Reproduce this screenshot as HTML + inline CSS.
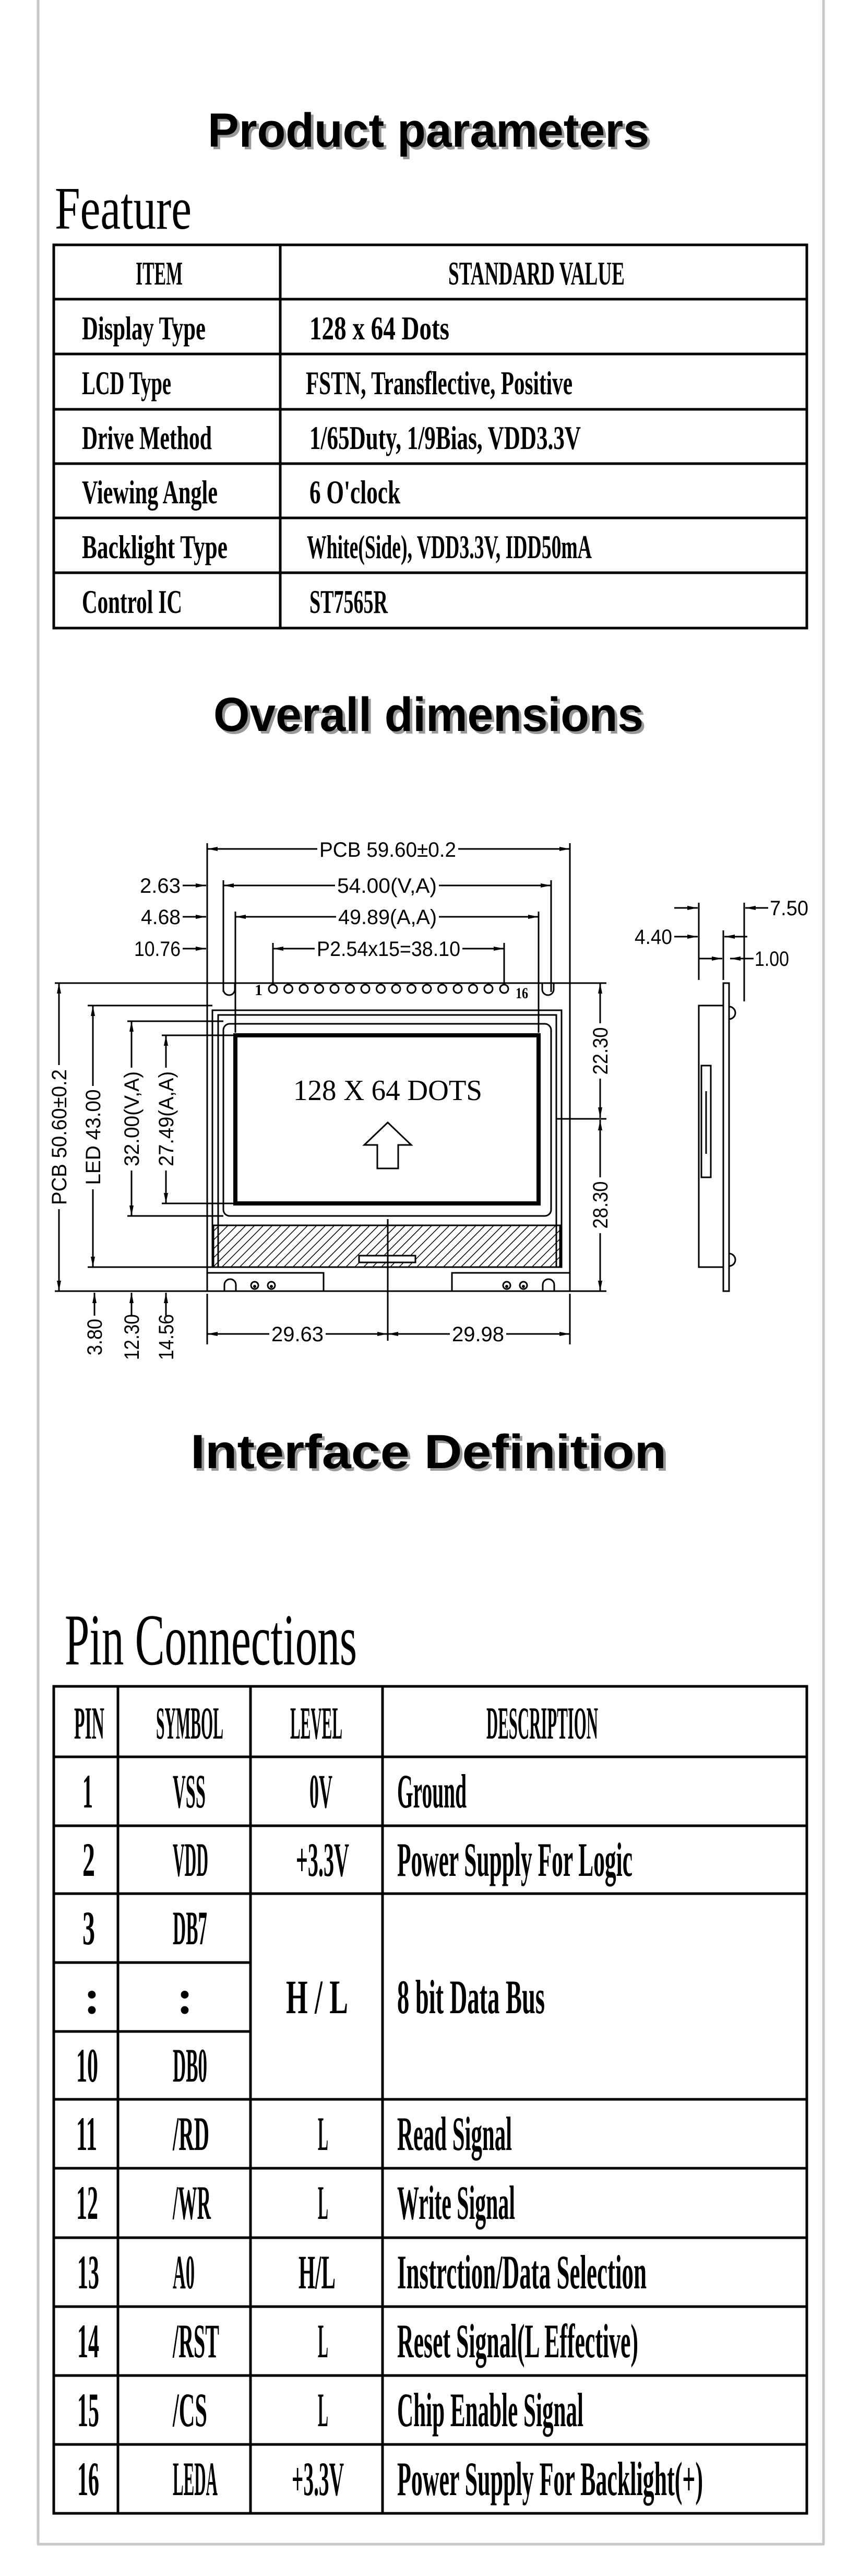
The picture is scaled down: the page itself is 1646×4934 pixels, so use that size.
<!DOCTYPE html>
<html><head><meta charset="utf-8"><style>
html,body{margin:0;padding:0;background:#fff}
svg{display:block}
.s{font-family:"Liberation Serif",serif;font-weight:bold;fill:#000}
.n{font-family:"Liberation Sans",sans-serif;fill:#000}
.h{font-family:"Liberation Sans",sans-serif;font-weight:bold}
</style></head><body>
<svg width="1646" height="4934" viewBox="0 0 1646 4934" xmlns="http://www.w3.org/2000/svg">
<defs>
<marker id="a" viewBox="0 0 20 10" refX="20" refY="5" markerWidth="20" markerHeight="10" markerUnits="userSpaceOnUse" orient="auto-start-reverse"><path d="M0,1 L20,5 L0,9 Z" fill="#000"/></marker>
<pattern id="hp" width="12" height="12" patternUnits="userSpaceOnUse" patternTransform="rotate(45)"><line x1="0" y1="0" x2="0" y2="12" stroke="#000" stroke-width="3"/></pattern>
</defs>
<g stroke="#c8c8c8" stroke-width="5" fill="none">
<line x1="73" y1="0" x2="73" y2="4873"/><line x1="1578" y1="0" x2="1578" y2="4873"/><line x1="71" y1="4873" x2="1580" y2="4873"/>
</g>
<g class="h" font-size="92">
<text x="403" y="286" textLength="846" lengthAdjust="spacingAndGlyphs" fill="#999">Product parameters</text>
<text x="398" y="281" textLength="846" lengthAdjust="spacingAndGlyphs" fill="#000">Product parameters</text>
<text x="414" y="1405" textLength="824" lengthAdjust="spacingAndGlyphs" fill="#999">Overall dimensions</text>
<text x="409" y="1400" textLength="824" lengthAdjust="spacingAndGlyphs" fill="#000">Overall dimensions</text>
<text x="370" y="2817" textLength="912" lengthAdjust="spacingAndGlyphs" fill="#999">Interface Definition</text>
<text x="365" y="2812" textLength="912" lengthAdjust="spacingAndGlyphs" fill="#000">Interface Definition</text>
</g>
<text x="105" y="438" font-family="Liberation Serif,serif" font-size="115" textLength="262" lengthAdjust="spacingAndGlyphs">Feature</text>
<text x="124" y="3188" font-family="Liberation Serif,serif" font-size="140" textLength="560" lengthAdjust="spacingAndGlyphs">Pin Connections</text>

<g stroke="#000" stroke-width="5" fill="none">
<rect x="103" y="469" width="1443" height="734"/>
<line x1="537" y1="469" x2="537" y2="1203"/>
<line x1="103" y1="573" x2="1546" y2="573"/><line x1="103" y1="678" x2="1546" y2="678"/><line x1="103" y1="784" x2="1546" y2="784"/><line x1="103" y1="888" x2="1546" y2="888"/><line x1="103" y1="992" x2="1546" y2="992"/><line x1="103" y1="1097" x2="1546" y2="1097"/>
</g>
<g class="s" font-size="64">
<text x="260" y="545" textLength="90" lengthAdjust="spacingAndGlyphs">ITEM</text>
<text x="859" y="545" textLength="338" lengthAdjust="spacingAndGlyphs">STANDARD VALUE</text>
<text x="157" y="650" textLength="237" lengthAdjust="spacingAndGlyphs">Display Type</text>
<text x="593" y="650" textLength="268" lengthAdjust="spacingAndGlyphs">128 x 64 Dots</text>
<text x="157" y="755" textLength="171" lengthAdjust="spacingAndGlyphs">LCD Type</text>
<text x="586" y="755" textLength="511" lengthAdjust="spacingAndGlyphs">FSTN, Transflective, Positive</text>
<text x="157" y="860" textLength="249" lengthAdjust="spacingAndGlyphs">Drive Method</text>
<text x="593" y="860" textLength="520" lengthAdjust="spacingAndGlyphs">1/65Duty, 1/9Bias, VDD3.3V</text>
<text x="157" y="964" textLength="260" lengthAdjust="spacingAndGlyphs">Viewing Angle</text>
<text x="593" y="964" textLength="174" lengthAdjust="spacingAndGlyphs">6 O'clock</text>
<text x="157" y="1069" textLength="279" lengthAdjust="spacingAndGlyphs">Backlight Type</text>
<text x="588" y="1069" textLength="546" lengthAdjust="spacingAndGlyphs">White(Side), VDD3.3V, IDD50mA</text>
<text x="157" y="1174" textLength="192" lengthAdjust="spacingAndGlyphs">Control IC</text>
<text x="593" y="1174" textLength="150" lengthAdjust="spacingAndGlyphs">ST7565R</text>
</g>

<g stroke="#000" stroke-width="3" fill="none">
<rect x="397" y="1883" width="695" height="590"/>
<line x1="397" y1="1615" x2="397" y2="1883"/><line x1="1092" y1="1615" x2="1092" y2="1883"/>
<line x1="428" y1="1686" x2="428" y2="1900"/><line x1="1056" y1="1686" x2="1056" y2="1900"/>
<line x1="451" y1="1746" x2="451" y2="1978"/><line x1="1032" y1="1746" x2="1032" y2="1978"/>
<line x1="523" y1="1806" x2="523" y2="1886"/><line x1="966" y1="1806" x2="966" y2="1886"/>
<line x1="397" y1="1626" x2="608" y2="1626" marker-start="url(#a)"/><line x1="878" y1="1626" x2="1092" y2="1626" marker-end="url(#a)"/>
<line x1="428" y1="1696" x2="642" y2="1696" marker-start="url(#a)"/><line x1="841" y1="1696" x2="1056" y2="1696" marker-end="url(#a)"/>
<line x1="451" y1="1756" x2="644" y2="1756" marker-start="url(#a)"/><line x1="841" y1="1756" x2="1032" y2="1756" marker-end="url(#a)"/>
<line x1="523" y1="1817" x2="603" y2="1817" marker-start="url(#a)"/><line x1="886" y1="1817" x2="966" y2="1817" marker-end="url(#a)"/>
<line x1="350" y1="1696" x2="395" y2="1696" marker-end="url(#a)"/>
<line x1="350" y1="1756" x2="395" y2="1756" marker-end="url(#a)"/>
<line x1="350" y1="1817" x2="395" y2="1817" marker-end="url(#a)"/>
<path d="M428,1883 V1895 A11,11 0 0 0 450,1895 V1883"/>
<path d="M1039,1883 V1895 A11,11 0 0 0 1061,1895 V1883"/>
<rect x="407" y="1935" width="669" height="492"/>
<rect x="418" y="1944" width="648" height="483"/>
<rect x="428" y="1961" width="628" height="368" rx="12"/>
<rect x="451" y="1983" width="581" height="322" stroke-width="8"/>
<line x1="105" y1="1883" x2="397" y2="1883"/>
<line x1="168" y1="1926" x2="407" y2="1926"/>
<line x1="244" y1="1956" x2="428" y2="1956"/>
<line x1="310" y1="1983" x2="451" y2="1983"/>
<line x1="310" y1="2305" x2="451" y2="2305"/>
<line x1="244" y1="2329" x2="428" y2="2329"/>
<line x1="168" y1="2427" x2="407" y2="2427"/>
<line x1="105" y1="2473" x2="397" y2="2473"/>
<line x1="113" y1="1883" x2="113" y2="2040" marker-start="url(#a)"/><line x1="113" y1="2316" x2="113" y2="2473" marker-end="url(#a)"/>
<line x1="178" y1="1926" x2="178" y2="2080" marker-start="url(#a)"/><line x1="178" y1="2278" x2="178" y2="2427" marker-end="url(#a)"/>
<line x1="252" y1="1956" x2="252" y2="2045" marker-start="url(#a)"/><line x1="252" y1="2242" x2="252" y2="2329" marker-end="url(#a)"/>
<line x1="318" y1="1983" x2="318" y2="2045" marker-start="url(#a)"/><line x1="318" y1="2242" x2="318" y2="2305" marker-end="url(#a)"/>
<line x1="181" y1="2520" x2="181" y2="2476" marker-end="url(#a)"/>
<line x1="252" y1="2520" x2="252" y2="2476" marker-end="url(#a)"/>
<line x1="318" y1="2520" x2="318" y2="2476" marker-end="url(#a)"/>
<line x1="1092" y1="1883" x2="1162" y2="1883"/><line x1="1092" y1="2473" x2="1162" y2="2473"/>
<line x1="1066" y1="2143" x2="1162" y2="2143"/>
<line x1="1150" y1="1883" x2="1150" y2="1960" marker-start="url(#a)"/><line x1="1150" y1="2066" x2="1150" y2="2141" marker-end="url(#a)"/>
<line x1="1150" y1="2145" x2="1150" y2="2255" marker-start="url(#a)"/><line x1="1150" y1="2362" x2="1150" y2="2473" marker-end="url(#a)"/>
<line x1="397" y1="2478" x2="397" y2="2575"/><line x1="1092" y1="2478" x2="1092" y2="2575"/>
<line x1="743" y1="2335" x2="743" y2="2568"/>
<line x1="397" y1="2555" x2="516" y2="2555" marker-start="url(#a)"/><line x1="624" y1="2555" x2="743" y2="2555" marker-end="url(#a)"/>
<line x1="743" y1="2555" x2="862" y2="2555" marker-start="url(#a)"/><line x1="970" y1="2555" x2="1092" y2="2555" marker-end="url(#a)"/>
<polyline points="397,2438 620,2438 620,2473"/>
<polyline points="1092,2438 866,2438 866,2473"/>
<path d="M430,2473 V2461 A11,11 0 0 1 452,2461 V2473"/>
<path d="M1040,2473 V2461 A11,11 0 0 1 1062,2461 V2473"/>
<rect x="1339" y="1926" width="47" height="501"/>
<rect x="1386" y="1883" width="11" height="590"/>
<rect x="1344" y="2041" width="18" height="214"/>
<line x1="1353" y1="2090" x2="1353" y2="2210"/>
<path d="M1397,1928 A12,12 0 0 1 1397,1952"/>
<path d="M1397,2401 A12,12 0 0 1 1397,2425"/>
<line x1="1339" y1="1729" x2="1339" y2="1877"/>
<line x1="1386" y1="1782" x2="1386" y2="1877"/>
<line x1="1426" y1="1729" x2="1426" y2="1918"/>
<line x1="1292" y1="1739" x2="1337" y2="1739" marker-end="url(#a)"/>
<line x1="1472" y1="1739" x2="1428" y2="1739" marker-end="url(#a)"/>
<line x1="1292" y1="1794" x2="1337" y2="1794" marker-end="url(#a)"/>
<line x1="1432" y1="1794" x2="1388" y2="1794" marker-end="url(#a)"/>
<line x1="1339" y1="1836" x2="1384" y2="1836" marker-end="url(#a)"/>
<line x1="1444" y1="1836" x2="1399" y2="1836" marker-end="url(#a)"/>
</g>
<rect x="409" y="2347" width="664" height="80" fill="url(#hp)" stroke="#000" stroke-width="3"/>
<rect x="688" y="2405" width="108" height="13" fill="#fff" stroke="#000" stroke-width="3"/>
<line x1="743" y1="2347" x2="743" y2="2438" stroke="#000" stroke-width="3"/>
<g stroke="#000" stroke-width="3" fill="none">
<circle cx="523" cy="1894" r="8"/><circle cx="552.5" cy="1894" r="8"/><circle cx="582" cy="1894" r="8"/><circle cx="611.5" cy="1894" r="8"/><circle cx="641" cy="1894" r="8"/><circle cx="670.5" cy="1894" r="8"/><circle cx="700" cy="1894" r="8"/><circle cx="729.5" cy="1894" r="8"/><circle cx="759" cy="1894" r="8"/><circle cx="788.5" cy="1894" r="8"/><circle cx="818" cy="1894" r="8"/><circle cx="847.5" cy="1894" r="8"/><circle cx="877" cy="1894" r="8"/><circle cx="906.5" cy="1894" r="8"/><circle cx="936" cy="1894" r="8"/><circle cx="966" cy="1894" r="8"/>
<circle cx="488" cy="2462" r="7"/><circle cx="520" cy="2462" r="7"/><circle cx="971" cy="2462" r="7"/><circle cx="1003" cy="2462" r="7"/>
<path d="M743,2150 L698,2193 H723 V2238 H763 V2193 H788 Z"/>
</g>
<g fill="#000"><circle cx="488" cy="2464" r="3"/><circle cx="520" cy="2464" r="3"/><circle cx="971" cy="2464" r="3"/><circle cx="1003" cy="2464" r="3"/></g>
<g class="n" font-size="40">
<text x="612" y="1641" textLength="262" lengthAdjust="spacingAndGlyphs">PCB 59.60±0.2</text>
<text x="646" y="1710" textLength="191" lengthAdjust="spacingAndGlyphs">54.00(V,A)</text>
<text x="648" y="1770" textLength="189" lengthAdjust="spacingAndGlyphs">49.89(A,A)</text>
<text x="607" y="1831" textLength="275" lengthAdjust="spacingAndGlyphs">P2.54x15=38.10</text>
<text x="268" y="1710" textLength="78" lengthAdjust="spacingAndGlyphs">2.63</text>
<text x="270" y="1770" textLength="76" lengthAdjust="spacingAndGlyphs">4.68</text>
<text x="257" y="1831" textLength="89" lengthAdjust="spacingAndGlyphs">10.76</text>
<text x="520" y="2569" textLength="100" lengthAdjust="spacingAndGlyphs">29.63</text>
<text x="866" y="2569" textLength="100" lengthAdjust="spacingAndGlyphs">29.98</text>
<text x="1475" y="1753" textLength="74" lengthAdjust="spacingAndGlyphs">7.50</text>
<text x="1216" y="1808" textLength="72" lengthAdjust="spacingAndGlyphs">4.40</text>
<text x="1446" y="1850" textLength="66" lengthAdjust="spacingAndGlyphs">1.00</text>
<text transform="translate(127,2178) rotate(-90)" text-anchor="middle" textLength="260" lengthAdjust="spacingAndGlyphs">PCB 50.60±0.2</text>
<text transform="translate(192,2178) rotate(-90)" text-anchor="middle" textLength="183" lengthAdjust="spacingAndGlyphs">LED 43.00</text>
<text transform="translate(266,2143) rotate(-90)" text-anchor="middle" textLength="182" lengthAdjust="spacingAndGlyphs">32.00(V,A)</text>
<text transform="translate(332,2143) rotate(-90)" text-anchor="middle" textLength="182" lengthAdjust="spacingAndGlyphs">27.49(A,A)</text>
<text transform="translate(1164,2013) rotate(-90)" text-anchor="middle" textLength="91" lengthAdjust="spacingAndGlyphs">22.30</text>
<text transform="translate(1164,2308) rotate(-90)" text-anchor="middle" textLength="91" lengthAdjust="spacingAndGlyphs">28.30</text>
<text transform="translate(195,2561) rotate(-90)" text-anchor="middle" textLength="70" lengthAdjust="spacingAndGlyphs">3.80</text>
<text transform="translate(266,2561) rotate(-90)" text-anchor="middle" textLength="88" lengthAdjust="spacingAndGlyphs">12.30</text>
<text transform="translate(332,2561) rotate(-90)" text-anchor="middle" textLength="88" lengthAdjust="spacingAndGlyphs">14.56</text>
</g>
<text x="562" y="2107" font-family="Liberation Serif,serif" font-size="56" textLength="362" lengthAdjust="spacingAndGlyphs">128 X 64 DOTS</text>
<text x="488" y="1906" class="s" font-size="30">1</text>
<text x="988" y="1912" class="s" font-size="30" textLength="24" lengthAdjust="spacingAndGlyphs">16</text>

<g stroke="#000" stroke-width="5" fill="none">
<rect x="103" y="3230" width="1443" height="1584"/>
<line x1="226" y1="3230" x2="226" y2="4814"/><line x1="480" y1="3230" x2="480" y2="4814"/><line x1="733" y1="3230" x2="733" y2="4814"/>
<line x1="103" y1="3365" x2="1546" y2="3365"/><line x1="103" y1="3497" x2="1546" y2="3497"/><line x1="103" y1="3627" x2="1546" y2="3627"/>
<line x1="103" y1="3759" x2="480" y2="3759"/><line x1="103" y1="3891" x2="480" y2="3891"/>
<line x1="103" y1="4021" x2="1546" y2="4021"/><line x1="103" y1="4153" x2="1546" y2="4153"/><line x1="103" y1="4286" x2="1546" y2="4286"/><line x1="103" y1="4418" x2="1546" y2="4418"/><line x1="103" y1="4550" x2="1546" y2="4550"/><line x1="103" y1="4682" x2="1546" y2="4682"/>
</g>
<g class="s" font-size="88">
<text x="142" y="3330" textLength="58" lengthAdjust="spacingAndGlyphs">PIN</text>
<text x="299" y="3330" textLength="129" lengthAdjust="spacingAndGlyphs">SYMBOL</text>
<text x="556" y="3330" textLength="100" lengthAdjust="spacingAndGlyphs">LEVEL</text>
<text x="932" y="3330" textLength="214" lengthAdjust="spacingAndGlyphs">DESCRIPTION</text>
</g>
<g class="s" font-size="92">
<text x="158" y="3462" textLength="20" lengthAdjust="spacingAndGlyphs">1</text>
<text x="158" y="3593" textLength="24" lengthAdjust="spacingAndGlyphs">2</text>
<text x="158" y="3724" textLength="24" lengthAdjust="spacingAndGlyphs">3</text>
<text x="161" y="3856">:</text>
<text x="146" y="3987" textLength="42" lengthAdjust="spacingAndGlyphs">10</text>
<text x="146" y="4118" textLength="40" lengthAdjust="spacingAndGlyphs">11</text>
<text x="146" y="4250" textLength="42" lengthAdjust="spacingAndGlyphs">12</text>
<text x="148" y="4383" textLength="42" lengthAdjust="spacingAndGlyphs">13</text>
<text x="148" y="4515" textLength="42" lengthAdjust="spacingAndGlyphs">14</text>
<text x="148" y="4647" textLength="42" lengthAdjust="spacingAndGlyphs">15</text>
<text x="148" y="4779" textLength="42" lengthAdjust="spacingAndGlyphs">16</text>

<text x="331" y="3462" textLength="63" lengthAdjust="spacingAndGlyphs">VSS</text>
<text x="331" y="3593" textLength="68" lengthAdjust="spacingAndGlyphs">VDD</text>
<text x="331" y="3724" textLength="66" lengthAdjust="spacingAndGlyphs">DB7</text>
<text x="339" y="3856">:</text>
<text x="331" y="3987" textLength="66" lengthAdjust="spacingAndGlyphs">DB0</text>
<text x="331" y="4118" textLength="70" lengthAdjust="spacingAndGlyphs">/RD</text>
<text x="331" y="4250" textLength="73" lengthAdjust="spacingAndGlyphs">/WR</text>
<text x="331" y="4383" textLength="42" lengthAdjust="spacingAndGlyphs">A0</text>
<text x="331" y="4515" textLength="89" lengthAdjust="spacingAndGlyphs">/RST</text>
<text x="331" y="4647" textLength="66" lengthAdjust="spacingAndGlyphs">/CS</text>
<text x="331" y="4779" textLength="86" lengthAdjust="spacingAndGlyphs">LEDA</text>

<text x="593" y="3462" textLength="44" lengthAdjust="spacingAndGlyphs">0V</text>
<text x="567" y="3593" textLength="102" lengthAdjust="spacingAndGlyphs">+3.3V</text>
<text x="548" y="3856" textLength="119" lengthAdjust="spacingAndGlyphs">H / L</text>
<text x="609" y="4118" textLength="20" lengthAdjust="spacingAndGlyphs">L</text>
<text x="609" y="4250" textLength="20" lengthAdjust="spacingAndGlyphs">L</text>
<text x="572" y="4383" textLength="71" lengthAdjust="spacingAndGlyphs">H/L</text>
<text x="609" y="4515" textLength="20" lengthAdjust="spacingAndGlyphs">L</text>
<text x="609" y="4647" textLength="20" lengthAdjust="spacingAndGlyphs">L</text>
<text x="559" y="4779" textLength="100" lengthAdjust="spacingAndGlyphs">+3.3V</text>

<text x="761" y="3462" textLength="133" lengthAdjust="spacingAndGlyphs">Ground</text>
<text x="761" y="3593" textLength="451" lengthAdjust="spacingAndGlyphs">Power Supply For Logic</text>
<text x="761" y="3856" textLength="283" lengthAdjust="spacingAndGlyphs">8 bit Data Bus</text>
<text x="761" y="4118" textLength="220" lengthAdjust="spacingAndGlyphs">Read Signal</text>
<text x="761" y="4250" textLength="226" lengthAdjust="spacingAndGlyphs">Write Signal</text>
<text x="761" y="4383" textLength="478" lengthAdjust="spacingAndGlyphs">Instrction/Data Selection</text>
<text x="761" y="4515" textLength="462" lengthAdjust="spacingAndGlyphs">Reset Signal(L Effective)</text>
<text x="761" y="4647" textLength="357" lengthAdjust="spacingAndGlyphs">Chip Enable Signal</text>
<text x="761" y="4779" textLength="586" lengthAdjust="spacingAndGlyphs">Power Supply For Backlight(+)</text>
</g>
</svg>
</body></html>
